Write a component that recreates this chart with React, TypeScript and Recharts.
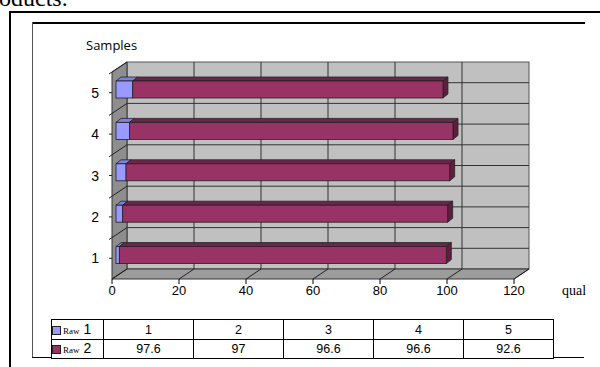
import React from 'react';
import { BarChart, Bar, XAxis, YAxis, ReferenceArea } from 'recharts';

// values
const samples = ['1', '2', '3', '4', '5'];
const raw1 = [1, 2, 3, 4, 5];
const raw2 = [97.6, 97, 96.6, 96.6, 92.6];
const xTicks = [0, 20, 40, 60, 80, 100, 120];

const data = samples.map((s, i) => ({ sample: s, raw1: raw1[i], raw2: raw2[i] }));

// 3d look: wall depth and bar depth
const WALL_DX = 15;
const WALL_DY = -10;
const BAR_SHIFT_X = 4;
const BAR_SHIFT_Y = -3;
const BAR_DX = 5;
const BAR_DY = -4;

const sans = 'Arial, "Liberation Sans", sans-serif';
const serif = '"Times New Roman", "Liberation Serif", serif';

// walls + floor, drawn from the plot rect handed over by ReferenceArea
const Walls = (props: any) => {
  const { x, y, width: w, height: h } = props;
  const bx = x + WALL_DX;
  const by = y + WALL_DY;
  const max = xTicks[xTicks.length - 1];
  const n = samples.length;
  return (
    <g>
      <rect x={bx} y={by} width={w} height={h} fill='#c0c0c0' stroke='#555' strokeWidth={1} />
      {/* horizontal lines on the back wall: band edges and band centres */}
      {Array.from({ length: n * 2 - 1 }, (_, k) => {
        const yy = by + (h * (k + 1)) / (n * 2);
        return <line key={`h${k}`} x1={bx} x2={bx + w} y1={yy} y2={yy} stroke='#333' strokeWidth={1} />;
      })}
      {xTicks.slice(1, -1).map((v) => {
        const xx = bx + (w * v) / max;
        return <line key={`v${v}`} x1={xx} x2={xx} y1={by} y2={by + h} stroke='#333' strokeWidth={1} />;
      })}
      {/* left side wall */}
      <polygon
        points={`${x},${y} ${bx},${by} ${bx},${by + h} ${x},${y + h}`}
        fill='#8e8e8e'
        stroke='#333'
        strokeWidth={1}
      />
      {samples.map((_, k) => {
        const yy = y + (h * k) / n;
        return (
          <g key={`l${k}`}>
            <line x1={x - 3} x2={bx} y1={yy + 2} y2={yy + WALL_DY} stroke='#222' strokeWidth={1} />
            <line x1={x - 3} x2={x} y1={yy + h / n / 2} y2={yy + h / n / 2} stroke='#222' strokeWidth={1} />
          </g>
        );
      })}
      {/* floor */}
      <polygon
        points={`${x},${y + h} ${bx},${by + h} ${bx + w},${by + h} ${x + w},${y + h}`}
        fill='#9c9c9c'
        stroke='#333'
        strokeWidth={1}
      />
      {xTicks.map((v) => {
        const xx = x + (w * v) / max;
        return (
          <line key={`f${v}`} x1={xx} x2={xx + WALL_DX} y1={y + h} y2={y + h + WALL_DY} stroke='#222' strokeWidth={1} />
        );
      })}
    </g>
  );
};

const makeBar = (front: string, top: string, side: string | null) => (props: any) => {
  const { x, y, width, height } = props;
  if (!width || width <= 0) return null;
  const fx = x + BAR_SHIFT_X;
  const fy = y + BAR_SHIFT_Y;
  return (
    <g>
      <polygon
        points={`${fx},${fy} ${fx + BAR_DX},${fy + BAR_DY} ${fx + width + BAR_DX},${fy + BAR_DY} ${fx + width},${fy}`}
        fill={top}
        stroke='#222'
        strokeWidth={0.8}
      />
      {side && (
        <polygon
          points={`${fx + width},${fy} ${fx + width + BAR_DX},${fy + BAR_DY} ${fx + width + BAR_DX},${fy + BAR_DY + height} ${fx + width},${fy + height}`}
          fill={side}
          stroke='#222'
          strokeWidth={0.8}
        />
      )}
      <rect x={fx} y={fy} width={width} height={height} fill={front} stroke='#222' strokeWidth={0.8} />
    </g>
  );
};

const Raw1Shape = makeBar('#9999ff', '#7f7fe0', null);
const Raw2Shape = makeBar('#993366', '#6e2549', '#5e1f3e');

const SampleTick = ({ y, payload }: any) => (
  <text x={99} y={y} textAnchor='end' dominantBaseline='central' fontSize={14} fontFamily={sans} fill='#000'>
    {payload.value}
  </text>
);

const ValueTick = ({ x, y, payload }: any) => (
  <text x={x} y={y} dy='0.71em' textAnchor='middle' fontSize={13} fontFamily={sans} fill='#000'>
    {payload.value}
  </text>
);

const swatch = (color: string) => (
  <span
    style={{
      display: 'inline-block',
      width: 7,
      height: 7,
      background: color,
      border: '1px solid #222',
      marginRight: 2,
      verticalAlign: 'middle',
    }}
  />
);

const cell: React.CSSProperties = {
  border: '1px solid #000',
  padding: 0,
  width: 89,
  textAlign: 'center',
  fontFamily: sans,
  fontSize: 12.5,
  lineHeight: '16px',
};

export default function App() {
  const rows = [
    { name: '1', color: '#9999ff', values: raw1 },
    { name: '2', color: '#993366', values: raw2 },
  ];
  return (
    <div
      style={{
        position: 'absolute',
        left: 0,
        top: 0,
        width: 600,
        height: 367,
        overflow: 'hidden',
        background: '#fff',
      }}
    >
      {/* caption remnant at the top of the scan */}
      <div style={{ position: 'absolute', left: -1, top: -14, fontFamily: serif, fontSize: 24, lineHeight: 1 }}>
        oducts.
      </div>
      {/* frames */}
      <div style={{ position: 'absolute', left: 9, top: 11, width: 591, height: 2, background: '#000' }} />
      <div style={{ position: 'absolute', left: 9, top: 11, width: 2, height: 356, background: '#000' }} />
      <div style={{ position: 'absolute', left: 32, top: 22, width: 553, height: 2, background: '#000' }} />
      <div style={{ position: 'absolute', left: 32, top: 22, width: 1, height: 336, background: '#555' }} />
      <div style={{ position: 'absolute', left: 32, top: 357, width: 552, height: 1, background: '#000' }} />

      <div style={{ position: 'absolute', left: 86, top: 36, fontFamily: '"Open Sans", sans-serif', fontSize: 13 }}>
        Samples
      </div>
      <div style={{ position: 'absolute', left: 562, top: 283, fontFamily: serif, fontSize: 14 }}>qual</div>

      <div style={{ position: 'absolute', left: 0, top: 0 }}>
        <BarChart
          width={600}
          height={367}
          data={data}
          layout='vertical'
          margin={{ top: 72, right: 86, bottom: 58, left: 82 }}
          barSize={17}
        >
          <XAxis
            type='number'
            domain={[0, 120]}
            ticks={xTicks}
            interval={0}
            axisLine={false}
            tickLine={{ stroke: '#000' }}
            tickSize={5}
            tick={<ValueTick />}
            height={30}
          />
          <YAxis
            type='category'
            dataKey='sample'
            reversed
            width={30}
            axisLine={false}
            tickLine={false}
            tick={<SampleTick />}
          />
          <ReferenceArea x1={0} x2={120} shape={<Walls />} fillOpacity={1} />
          <Bar dataKey='raw1' stackId='a' isAnimationActive={false} shape={<Raw1Shape />} />
          <Bar dataKey='raw2' stackId='a' isAnimationActive={false} shape={<Raw2Shape />} />
        </BarChart>
      </div>

      <table
        style={{
          position: 'absolute',
          left: 51,
          top: 319,
          borderCollapse: 'collapse',
          background: '#fff',
        }}
      >
        <tbody>
          {rows.map((r, ri) => (
            <tr key={r.name} style={{ height: ri === 0 ? 20 : 18 }}>
              <td style={{ ...cell, width: 51, textAlign: 'left', whiteSpace: 'nowrap' }}>
                {swatch(r.color)}
                <span style={{ fontFamily: serif, fontSize: 9 }}>Raw</span>
                <span style={{ fontSize: 14 }}> {r.name}</span>
              </td>
              {r.values.map((v, i) => (
                <td key={i} style={cell}>
                  {v}
                </td>
              ))}
            </tr>
          ))}
        </tbody>
      </table>
    </div>
  );
}
